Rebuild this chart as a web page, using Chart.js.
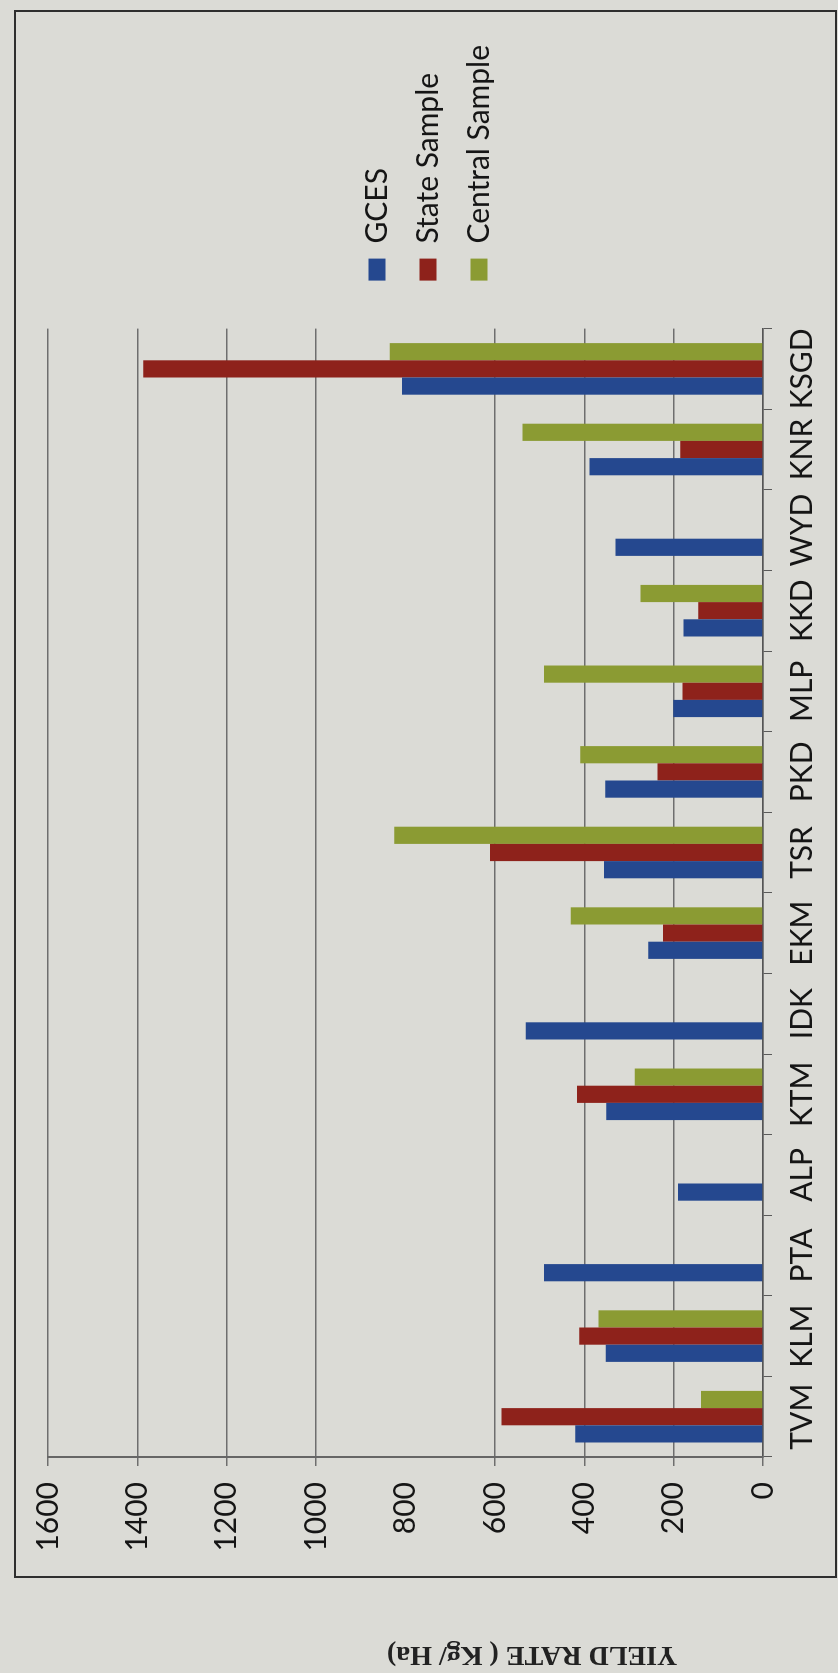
<!DOCTYPE html>
<html>
<head>
<meta charset="utf-8">
<script src="https://cdn.jsdelivr.net/npm/chart.js@4.4.1/dist/chart.umd.min.js"></script>
<style>
    html, body { margin: 0; padding: 0; }
    body { width: 838px; height: 1673px; background: #dbdbd6; position: relative; overflow: hidden; }
    #frame { position: absolute; left: 14px; top: 10px; width: 823px; height: 1568px; border: 2px solid #2e2e2e; box-sizing: border-box; }
    /* the scanned chart is turned 90deg counter-clockwise, so the canvas is drawn upright and rotated */
    #turn { position: absolute; left: 0; top: 0; width: 1673px; height: 838px; transform-origin: 0 0; transform: translate(0, 1673px) rotate(-90deg); }
    #ytitle { position: absolute; left: 362px; top: 1642px; width: 340px; height: 30px; line-height: 30px; text-align: center; font: bold 28px "Liberation Serif", serif; color: #222; transform: rotate(180deg); }
</style>
</head>
<body>
<div id="frame"></div>
<div id="turn"><canvas id="chart" width="1673" height="838"></canvas></div>
<div id="ytitle">YIELD RATE ( Kg/ Ha)</div>
<script>
const districts = ['TVM', 'KLM', 'PTA', 'ALP', 'KTM', 'IDK', 'EKM', 'TSR', 'PKD', 'MLP', 'KKD', 'WYD', 'KNR', 'KSGD'];
const gces    = [420, 352, 490, 190, 351, 531, 257, 356, 353, 201, 178, 330, 388, 808];
const state   = [585, 411, null, null, 416, null, 224, 611, 236, 180, 145, null, 185, 1387];
const central = [139, 368, null, null, 287, null, 430, 825, 409, 490, 274, null, 538, 835];
const valueTicks = [0, 200, 400, 600, 800, 1000, 1200, 1400, 1600];

const tickFont = { family: 'Lato', size: 30 };
const ink = '#151515';

const chart = new Chart(document.getElementById('chart').getContext('2d'), {
    type: 'bar',
    data: {
        labels: districts,
        datasets: [
            { label: 'GCES', data: gces, backgroundColor: '#25488f', borderWidth: 0 },
            { label: 'State Sample', data: state, backgroundColor: '#8e221b', borderWidth: 0 },
            { label: 'Central Sample', data: central, backgroundColor: '#8b9b33', borderWidth: 0 }
        ]
    },
    options: {
        responsive: false,
        animation: false,
        devicePixelRatio: 1,
        layout: { padding: { top: 18, right: 35, bottom: 0, left: 0 } },
        datasets: { bar: { categoryPercentage: 0.64, barPercentage: 1 } },
        scales: {
            x: {
                grid: { drawOnChartArea: false, drawTicks: true, tickLength: 9, tickColor: '#5a5a5a', offset: true },
                border: { display: true, color: '#555', width: 1.5 },
                ticks: { color: ink, font: tickFont, padding: 12, maxRotation: 0, minRotation: 0, autoSkip: false },
                afterFit: s => { s.height = 75; }
            },
            y: {
                min: 0,
                max: 1600,
                afterBuildTicks: s => { s.ticks = valueTicks.map(v => ({ value: v })); },
                grid: {
                    color: ctx => (ctx.tick && ctx.tick.value === 800) ? 'rgba(0,0,0,0)' : '#6e6e6e',
                    lineWidth: 1.5,
                    tickLength: 9
                },
                border: { display: true, color: '#666', width: 2 },
                ticks: { color: ink, font: tickFont, padding: 16, callback: v => String(v) },
                afterFit: s => { s.width = 216; }
            },
            gapTop: {
                type: 'linear', axis: 'x', position: 'top',
                grid: { display: false }, ticks: { display: false }, border: { display: false },
                afterFit: s => { s.height = 30; }
            },
            gapRight: {
                type: 'linear', axis: 'y', position: 'right',
                grid: { display: false }, ticks: { display: false }, border: { display: false },
                afterFit: s => { s.width = 27; }
            }
        },
        plugins: {
            legend: {
                position: 'right',
                labels: { color: ink, font: { family: 'Lato', size: 30 }, boxWidth: 22, boxHeight: 17, padding: 21 }
            },
            tooltip: { enabled: false }
        }
    }
});
</script>
</body>
</html>
